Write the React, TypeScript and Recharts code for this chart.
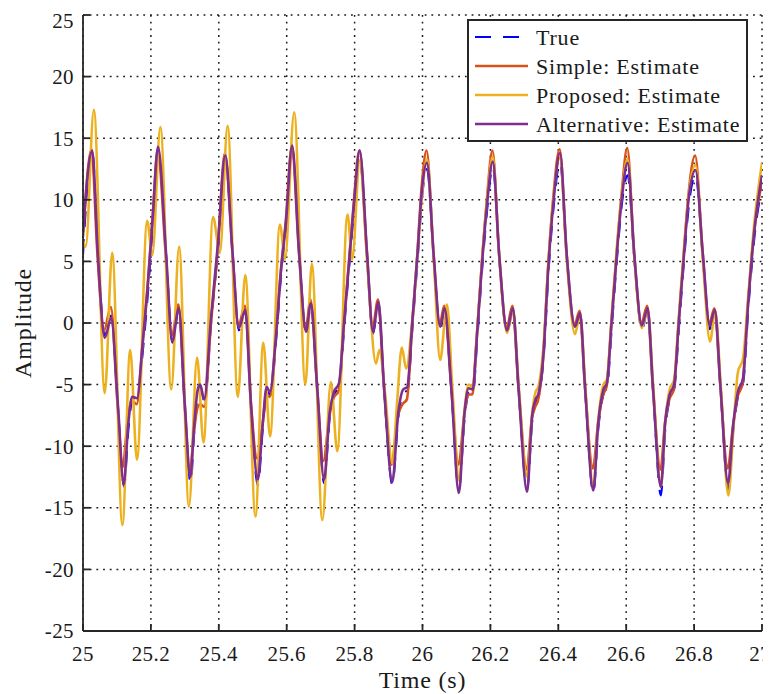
import React from 'react';
import { LineChart, Line, XAxis, YAxis, CartesianGrid, Legend } from 'recharts';

const xTicks = [25, 25.2, 25.4, 25.6, 25.8, 26, 26.2, 26.4, 26.6, 26.8, 27];
const yTicks = [-25, -20, -15, -10, -5, 0, 5, 10, 15, 20, 25];

const seriesNames = ['True', 'Simple: Estimate', 'Proposed: Estimate', 'Alternative: Estimate'];

// [time, amplitude] key points
const truePts: number[][] = [
  [25.000, 5.5], [25.027, 14.0], [25.044, 5.8], [25.064, -1.0], [25.083, 0.6], [25.103, -6.9], [25.121, -13.3],
  [25.134, -8.6], [25.146, -6.2], [25.160, -6.0], [25.179, -1.5], [25.193, 3.0], [25.207, 8.5], [25.221, 14.0],
  [25.245, 5.5], [25.263, -1.6], [25.282, 1.0], [25.300, -6.9], [25.317, -13.0], [25.328, -8.8], [25.339, -5.6],
  [25.346, -5.3], [25.358, -6.4], [25.378, 0.2], [25.398, 6.0], [25.419, 13.3], [25.441, 5.5], [25.459, -0.6],
  [25.478, 1.0], [25.495, -6.9], [25.515, -13.2], [25.530, -8.5], [25.542, -5.4], [25.552, -5.9], [25.569, -1.4],
  [25.584, 4.0], [25.599, 8.0], [25.616, 14.2], [25.637, 5.6], [25.657, -0.9], [25.671, 1.4], [25.690, -5.5],
  [25.710, -13.0], [25.728, -7.4], [25.740, -5.8], [25.755, -5.2], [25.770, -0.2], [25.784, 4.5], [25.799, 9.3],
  [25.815, 13.2], [25.837, 5.4], [25.854, -0.9], [25.870, 1.5], [25.887, -5.5], [25.911, -13.1], [25.930, -7.4],
  [25.944, -5.6], [25.956, -5.5], [25.971, -0.2], [25.986, 5.2], [26.000, 10.5], [26.013, 12.5], [26.033, 5.3],
  [26.052, -0.6], [26.065, 1.0], [26.085, -5.5], [26.107, -13.6], [26.125, -7.5], [26.137, -5.6], [26.149, -5.7],
  [26.161, -1.5], [26.176, 4.4], [26.191, 9.3], [26.207, 12.7], [26.226, 5.3], [26.249, -0.8], [26.266, 1.0],
  [26.283, -5.5], [26.308, -13.5], [26.324, -7.8], [26.334, -6.4], [26.342, -6.0], [26.357, -2.8], [26.372, 4.4],
  [26.386, 9.3], [26.405, 13.0], [26.425, 5.3], [26.449, -0.6], [26.464, 0.6], [26.479, -5.5], [26.503, -13.8],
  [26.519, -8.3], [26.534, -5.7], [26.544, -5.2], [26.558, -0.2], [26.573, 5.2], [26.588, 9.8], [26.604, 12.0],
  [26.624, 5.2], [26.646, -0.6], [26.663, 1.0], [26.679, -5.5], [26.702, -14.0], [26.716, -8.4], [26.729, -6.1],
  [26.742, -5.3], [26.756, -0.2], [26.771, 5.2], [26.785, 9.6], [26.804, 12.0], [26.826, 5.2], [26.846, -0.5],
  [26.861, 0.8], [26.878, -5.5], [26.900, -13.5], [26.916, -8.6], [26.930, -5.9], [26.945, -4.8], [26.960, 1.2],
  [26.978, 7.0], [27.000, 11.0],
];

const simplePts: number[][] = [
  [25.000, 7.0], [25.025, 14.1], [25.042, 5.8], [25.062, -0.6], [25.082, 1.3], [25.101, -6.3], [25.117, -11.7],
  [25.131, -8.0], [25.144, -6.3], [25.158, -6.6], [25.176, -1.6], [25.190, 2.9], [25.205, 8.6], [25.220, 14.0],
  [25.243, 5.8], [25.262, -1.0], [25.281, 1.5], [25.299, -6.3], [25.315, -12.0], [25.327, -8.8], [25.338, -6.8],
  [25.346, -6.6], [25.357, -6.8], [25.377, 0.0], [25.397, 6.0], [25.418, 13.8], [25.440, 5.8], [25.458, -0.2],
  [25.477, 1.4], [25.494, -6.3], [25.513, -11.0], [25.528, -8.5], [25.540, -5.8], [25.550, -6.0], [25.567, -1.5],
  [25.582, 4.0], [25.597, 8.2], [25.615, 14.3], [25.636, 5.8], [25.656, -0.5], [25.670, 1.9], [25.689, -5.0],
  [25.708, -11.2], [25.726, -7.5], [25.738, -6.1], [25.753, -5.5], [25.768, -0.3], [25.782, 4.5], [25.797, 9.6],
  [25.814, 14.0], [25.836, 5.8], [25.853, -0.4], [25.869, 1.9], [25.886, -5.0], [25.909, -11.5], [25.927, -7.6],
  [25.941, -6.6], [25.954, -6.2], [25.969, -0.5], [25.984, 5.3], [25.998, 11.2], [26.012, 14.0], [26.032, 5.8],
  [26.051, -0.1], [26.064, 1.4], [26.084, -5.0], [26.106, -11.5], [26.123, -7.5], [26.135, -5.8], [26.147, -5.8],
  [26.159, -1.5], [26.174, 4.5], [26.189, 9.8], [26.206, 14.0], [26.225, 5.8], [26.248, -0.4], [26.265, 1.4],
  [26.282, -5.0], [26.307, -11.9], [26.322, -7.8], [26.332, -6.8], [26.340, -6.3], [26.355, -3.0], [26.370, 4.5],
  [26.384, 9.8], [26.404, 14.1], [26.424, 5.8], [26.448, -0.1], [26.463, 1.0], [26.478, -5.0], [26.502, -11.8],
  [26.517, -8.2], [26.532, -5.8], [26.542, -5.2], [26.556, -0.2], [26.571, 5.3], [26.586, 10.3], [26.603, 14.2],
  [26.623, 5.8], [26.645, 0.0], [26.662, 1.4], [26.678, -5.0], [26.701, -11.9], [26.714, -8.2], [26.727, -6.2],
  [26.740, -5.4], [26.754, -0.2], [26.769, 5.3], [26.783, 10.3], [26.803, 13.6], [26.825, 5.8], [26.845, 0.0],
  [26.860, 1.2], [26.877, -5.0], [26.899, -11.8], [26.914, -8.5], [26.928, -6.0], [26.943, -4.9], [26.958, 1.2],
  [26.976, 7.2], [27.000, 11.5],
];

const proposedPts: number[][] = [
  [25.000, 6.7], [25.008, 6.2], [25.032, 17.3], [25.064, -5.7], [25.086, 5.7], [25.116, -16.4], [25.139, -2.2],
  [25.159, -11.1], [25.189, 8.3], [25.204, 5.5], [25.228, 15.9], [25.260, -5.4], [25.283, 6.2], [25.312, -14.9],
  [25.336, -2.8], [25.355, -9.7], [25.383, 8.6], [25.403, 5.7], [25.426, 16.0], [25.456, -6.0], [25.478, 3.9],
  [25.508, -15.7], [25.531, -1.6], [25.551, -9.2], [25.580, 8.0], [25.595, 5.2], [25.622, 17.1], [25.655, -5.0],
  [25.674, 4.8], [25.705, -16.0], [25.730, -4.8], [25.749, -10.4], [25.779, 8.8], [25.793, 5.2], [25.815, 13.2],
  [25.837, 5.0], [25.863, -3.3], [25.873, -2.2], [25.889, -5.5], [25.911, -11.4], [25.925, -6.5], [25.939, -2.0],
  [25.952, -3.7], [25.970, 0.3], [25.985, 5.5], [25.999, 10.5], [26.013, 13.3], [26.033, 5.3], [26.052, -3.0],
  [26.072, 1.5], [26.088, -5.3], [26.108, -12.8], [26.124, -7.0], [26.136, -5.0], [26.148, -5.2], [26.160, -1.0],
  [26.175, 5.0], [26.190, 10.0], [26.207, 13.5], [26.226, 5.5], [26.249, -0.8], [26.266, 1.0], [26.284, -5.3],
  [26.308, -12.5], [26.323, -7.3], [26.333, -5.6], [26.341, -5.2], [26.356, -2.0], [26.371, 5.0], [26.385, 10.0],
  [26.405, 13.4], [26.425, 5.2], [26.449, -0.9], [26.464, 0.7], [26.480, -5.3], [26.503, -13.3], [26.518, -7.8],
  [26.533, -5.0], [26.543, -4.6], [26.557, 0.5], [26.572, 6.0], [26.587, 10.5], [26.604, 13.3], [26.624, 5.3],
  [26.646, -0.4], [26.663, 1.1], [26.680, -5.3], [26.702, -13.3], [26.715, -8.0], [26.728, -5.4], [26.741, -4.6],
  [26.755, 0.5], [26.770, 6.0], [26.784, 10.4], [26.804, 12.8], [26.826, 5.0], [26.847, -1.5], [26.862, 1.0],
  [26.879, -5.3], [26.901, -14.0], [26.916, -8.5], [26.929, -4.0], [26.944, -2.9], [26.959, 2.0], [26.977, 8.0],
  [27.000, 13.0],
];

const alternativePts: number[][] = [
  [25.000, 7.4], [25.027, 14.0], [25.044, 5.5], [25.064, -1.2], [25.083, 0.4], [25.103, -6.7], [25.120, -13.1],
  [25.133, -8.3], [25.145, -6.0], [25.159, -6.1], [25.177, -1.2], [25.191, 3.1], [25.206, 8.8], [25.221, 14.3],
  [25.245, 5.5], [25.263, -1.5], [25.282, 1.2], [25.300, -6.7], [25.316, -12.5], [25.327, -8.5], [25.338, -5.4],
  [25.345, -5.0], [25.357, -6.2], [25.377, 0.4], [25.397, 6.3], [25.419, 13.6], [25.441, 5.5], [25.459, -0.4],
  [25.478, 1.05], [25.495, -6.7], [25.515, -12.7], [25.529, -8.3], [25.541, -5.2], [25.551, -5.6], [25.568, -1.2],
  [25.583, 4.2], [25.598, 8.2], [25.616, 14.4], [25.637, 5.5], [25.657, -0.7], [25.671, 1.6], [25.690, -5.3],
  [25.710, -12.7], [25.727, -7.2], [25.739, -5.6], [25.754, -4.9], [25.769, 0.1], [25.783, 4.7], [25.798, 9.6],
  [25.815, 14.0], [25.837, 5.5], [25.854, -0.7], [25.870, 1.7], [25.887, -5.3], [25.911, -12.9], [25.929, -7.2],
  [25.943, -5.4], [25.955, -5.2], [25.970, 0.1], [25.985, 5.5], [25.999, 11.0], [26.013, 13.0], [26.033, 5.5],
  [26.052, -0.3], [26.065, 1.2], [26.085, -5.3], [26.107, -13.8], [26.124, -7.2], [26.136, -5.3], [26.148, -5.4],
  [26.160, -1.2], [26.175, 4.7], [26.190, 9.6], [26.207, 13.1], [26.226, 5.5], [26.249, -0.6], [26.266, 1.2],
  [26.283, -5.3], [26.308, -13.7], [26.323, -7.5], [26.333, -6.2], [26.341, -5.8], [26.356, -2.6], [26.371, 4.7],
  [26.385, 9.6], [26.405, 13.8], [26.425, 5.5], [26.449, -0.3], [26.464, 0.8], [26.479, -5.3], [26.503, -13.6],
  [26.518, -8.0], [26.533, -5.4], [26.543, -4.9], [26.557, 0.1], [26.572, 5.5], [26.587, 10.1], [26.604, 13.0],
  [26.624, 5.5], [26.646, -0.2], [26.663, 1.2], [26.679, -5.3], [26.702, -13.3], [26.715, -8.0], [26.728, -5.8],
  [26.741, -5.0], [26.755, 0.1], [26.770, 5.5], [26.784, 10.1], [26.804, 12.4], [26.826, 5.5], [26.846, -0.2],
  [26.861, 1.05], [26.878, -5.3], [26.900, -13.0], [26.915, -8.3], [26.929, -5.6], [26.944, -4.5], [26.959, 1.5],
  [26.977, 7.4], [27.000, 12.0],
];

const toRows = (pts: number[][]) => pts.map(([t, v]) => ({ t, v }));

const FONT = "'Liberation Serif', 'DejaVu Serif', 'Noto Serif', 'Times New Roman', Times, serif";
const TEXT = '#1a1a1a';
const AXIS = '#262626';

const colors = ['#0000FF', '#D95319', '#EDB120', '#7E2F8E'];

const fmt = (v: number) => String(Number(v.toFixed(1)));

function LegendBox() {
  const rowY = [18, 47, 76, 105];
  return (
    <svg width={281} height={123} style={{ display: 'block' }}>
      <rect x={1} y={1} width={279} height={121} fill="#fff" stroke={AXIS} strokeWidth={2} />
      {seriesNames.map((name, i) => (
        <g key={name}>
          <line
            x1={8}
            x2={61}
            y1={rowY[i]}
            y2={rowY[i]}
            stroke={colors[i]}
            strokeWidth={i === 0 ? 2 : 2.5}
            strokeDasharray={i === 0 ? '16 12' : undefined}
          />
          <text
            x={69}
            y={rowY[i]}
            dy="0.35em"
            style={{ fontFamily: FONT, fontSize: 22, letterSpacing: 0.8 }}
            fill={TEXT}
          >
            {name}
          </text>
        </g>
      ))}
    </svg>
  );
}

const emptyTick = () => <g />;

export default function App() {
  return (
    <div style={{ width: 763, height: 686, fontFamily: FONT }}>
      <LineChart
        width={763}
        height={686}
        margin={{ top: 7, right: 9, left: 15, bottom: 0 }}
        style={{ fontFamily: FONT, overflow: 'visible' }}
      >
        <CartesianGrid stroke="#1a1a1a" strokeWidth={1.5} strokeDasharray="1.8 4.9" />
        <XAxis
          type="number"
          dataKey="t"
          domain={[25, 27]}
          ticks={xTicks}
          allowDataOverflow
          tickFormatter={fmt}
          height={63}
          tickSize={-7}
          tickMargin={22}
          stroke={AXIS}
          strokeWidth={1.8}
          tick={{ fontFamily: FONT, fontSize: 21, fill: TEXT, letterSpacing: 0.4 }}
          label={{
            value: 'Time (s)',
            position: 'insideBottom',
            offset: 6,
            style: { fontFamily: FONT, fontSize: 24, fill: TEXT, letterSpacing: 0.8 },
          }}
        />
        <XAxis
          xAxisId="top"
          orientation="top"
          type="number"
          dataKey="t"
          domain={[25, 27]}
          ticks={xTicks}
          allowDataOverflow
          height={0}
          tickSize={-7}
          stroke={AXIS}
          strokeWidth={1.8}
          tick={emptyTick}
        />
        <YAxis
          type="number"
          domain={[-25, 25]}
          ticks={yTicks}
          allowDataOverflow
          width={60}
          tickSize={-7}
          tickMargin={16}
          stroke={AXIS}
          strokeWidth={1.8}
          tick={{ fontFamily: FONT, fontSize: 21, fill: TEXT, letterSpacing: 0.4 }}
          label={{
            value: 'Amplitude',
            angle: -90,
            position: 'insideLeft',
            offset: -1,
            style: { textAnchor: 'middle', fontFamily: FONT, fontSize: 24, fill: TEXT, letterSpacing: 0.8 },
          }}
        />
        <YAxis
          yAxisId="right"
          orientation="right"
          type="number"
          domain={[-25, 25]}
          ticks={yTicks}
          allowDataOverflow
          width={0}
          tickSize={-7}
          stroke={AXIS}
          strokeWidth={1.8}
          tick={emptyTick}
        />
        <Line
          data={toRows(truePts)}
          dataKey="v"
          name={seriesNames[0]}
          type="monotone"
          stroke={colors[0]}
          strokeWidth={2}
          strokeDasharray="16 12"
          dot={false}
          activeDot={false}
          isAnimationActive={false}
        />
        <Line
          data={toRows(simplePts)}
          dataKey="v"
          name={seriesNames[1]}
          type="monotone"
          stroke={colors[1]}
          strokeWidth={2.6}
          dot={false}
          activeDot={false}
          isAnimationActive={false}
        />
        <Line
          data={toRows(proposedPts)}
          dataKey="v"
          name={seriesNames[2]}
          type="monotone"
          stroke={colors[2]}
          strokeWidth={2.6}
          dot={false}
          activeDot={false}
          isAnimationActive={false}
        />
        <Line
          data={toRows(alternativePts)}
          dataKey="v"
          name={seriesNames[3]}
          type="monotone"
          stroke={colors[3]}
          strokeWidth={2.6}
          dot={false}
          activeDot={false}
          isAnimationActive={false}
        />
        <Legend
          layout="vertical"
          align="center"
          verticalAlign="middle"
          wrapperStyle={{ left: 459, top: 11, width: 281, height: 123 }}
          content={() => <LegendBox />}
        />
      </LineChart>
    </div>
  );
}
